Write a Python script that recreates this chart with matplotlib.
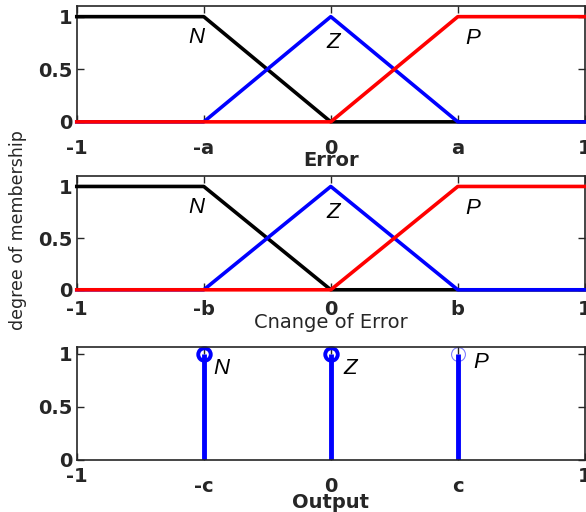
import numpy as np
import matplotlib.pyplot as plt
import matplotlib.transforms as mtransforms

plt.rcParams['font.family'] = ['DejaVu Sans']

# Функции принадлежности (точки излома), a = b = c = 0.5
x_pts = [-1, -0.5, 0, 0.5, 1]
mf_N = [1, 1, 0, 0, 0]
mf_Z = [0, 0, 1, 0, 0]
mf_P = [0, 0, 0, 1, 1]

tick_pos = [-1, -0.5, 0, 0.5, 1]
err_ticks = ['-1', '-a', '0', 'a', '1']
derr_ticks = ['-1', '-b', '0', 'b', '1']
out_ticks = ['-1', '-c', '0', 'c', '1']

# Синглтоны выхода
out_x = [-0.5, 0, 0.5]
out_y = [1, 1, 1]

labels = ['N', 'Z', 'P']
lbl_x = [-0.53, 0.01, 0.56]
lbl_y = [0.80, 0.75, 0.79]
out_lbl_x = [-0.43, 0.075, 0.59]
out_lbl_y = [0.86, 0.86, 0.92]

dark = '#262626'

fig = plt.figure(figsize=(5.86, 5.12), dpi=100)
ax1 = fig.add_axes([0.131, 0.762, 0.867, 0.226])
ax2 = fig.add_axes([0.131, 0.434, 0.867, 0.222])
ax3 = fig.add_axes([0.131, 0.1016, 0.867, 0.2204])


def style(ax, ticks, ylim, pad):
    ax.set_xlim(-1, 1)
    ax.set_ylim(0, ylim)
    ax.set_xticks(tick_pos)
    ax.set_xticklabels(ticks)
    ax.set_yticks([0, 0.5, 1])
    ax.set_yticklabels(['0', '0.5', '1'])
    ax.tick_params(direction='in', top=True, right=True, length=5, width=1,
                   color=dark, labelsize=14, labelcolor=dark, pad=3)
    ax.tick_params(axis='x', pad=pad)
    for t in ax.get_xticklabels() + ax.get_yticklabels():
        t.set_fontweight('bold')
    for s in ax.spines.values():
        s.set_linewidth(1.2)
        s.set_color(dark)


for ax, ticks, xl, w, pad, lp in [(ax1, err_ticks, 'Error', 'bold', 12, -5),
                                  (ax2, derr_ticks, 'Cnange of Error', 'normal', 7, -4)]:
    ax.plot(x_pts, mf_N, color='black', lw=2.6, clip_on=False, zorder=3)
    ax.plot(x_pts, mf_Z, color='blue', lw=2.6, clip_on=False, zorder=4)
    ax.plot(x_pts, mf_P, color='red', lw=2.6, clip_on=False, zorder=5)
    style(ax, ticks, 1.1, pad)
    ax.set_xlabel(xl, fontsize=14, fontweight=w, color=dark, labelpad=lp)
    for s, x, y in zip(labels, lbl_x, lbl_y):
        ax.text(x, y, s, fontsize=16, fontstyle='italic', ha='center', va='center',
                family='Liberation Sans')

ml, sl, bl = ax3.stem(out_x, out_y, linefmt='b-', markerfmt=' ', basefmt=' ')
sl.set_linewidth(3.5)
ax3.plot(out_x[:2], out_y[:2], 'o', ms=9, mfc='none', mec='blue', mew=2.8, clip_on=False)
ax3.plot(out_x[2:], out_y[2:], 'o', ms=10, mfc='none', mec='blue', mew=0.8,
         alpha=0.5, clip_on=False)
style(ax3, out_ticks, 1.06, 12)
ax3.set_xlabel('Output', fontsize=14, fontweight='bold', color=dark, labelpad=-2)
for s, x, y in zip(labels, out_lbl_x, out_lbl_y):
    ax3.text(x, y, s, fontsize=16, fontstyle='italic', ha='center', va='center',
             family='Liberation Sans')

# метки -1 и 1 снизу чуть выше остальных
xl3 = ax3.get_xticklabels()
for t in (xl3[0], xl3[-1]):
    t.set_transform(t.get_transform() + mtransforms.ScaledTranslation(0, 10 / 100, fig.dpi_scale_trans))

fig.text(0.031, 0.55, 'degree of membership', rotation=90, ha='center', va='center',
         fontsize=12.5, color=dark)

plt.savefig('out.png', dpi=100)
